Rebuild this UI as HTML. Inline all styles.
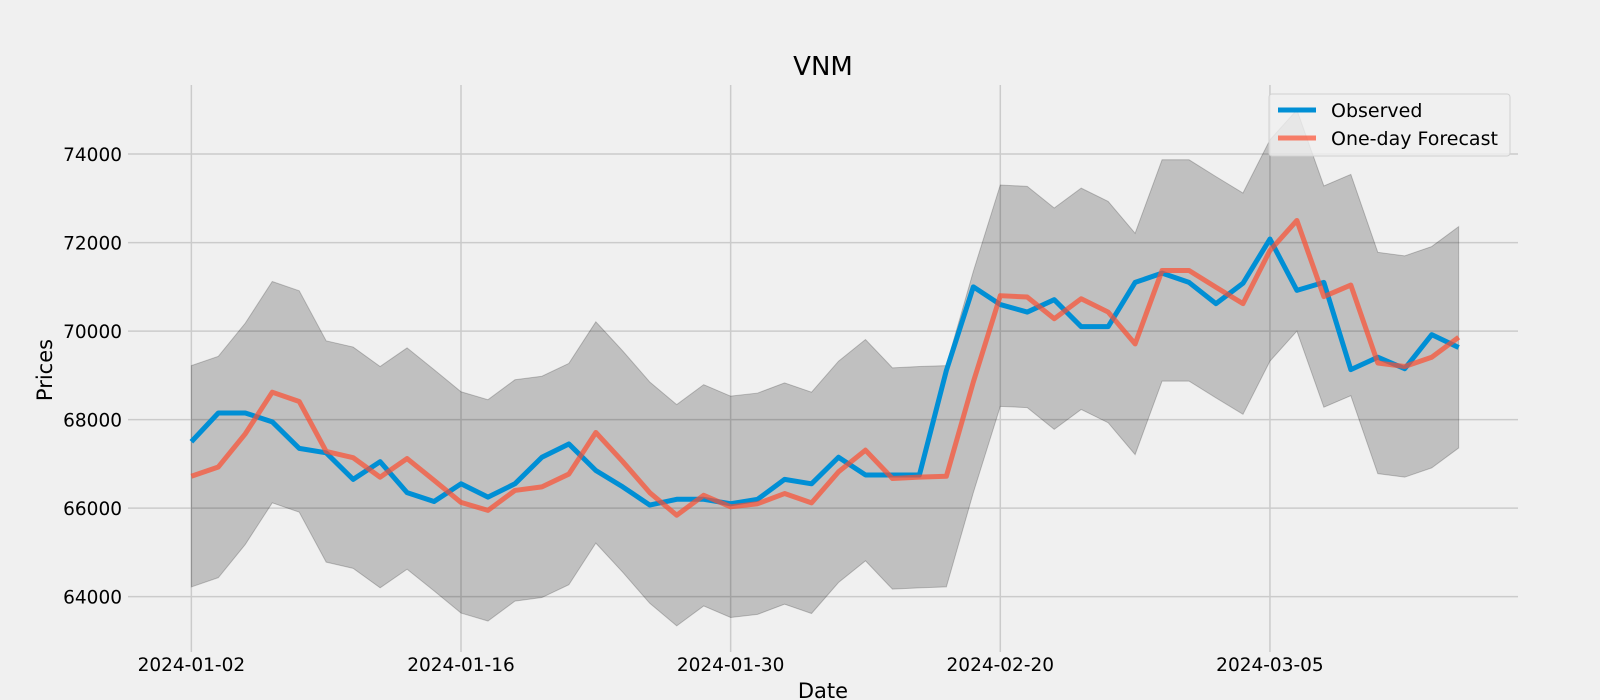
<!DOCTYPE html>
<html><head><meta charset="utf-8"><style>
body{margin:0;background:#f0f0f0;}
svg{display:block;font-family:"DejaVu Sans","Liberation Sans",sans-serif;}
</style></head><body>
<svg id="chart" width="1600" height="700" viewBox="0 0 1600 700" xmlns="http://www.w3.org/2000/svg">
<rect width="1600" height="700" fill="#f0f0f0"/>
<g id="grid"></g><g id="band"></g><g id="lines"></g><g id="ticks"></g>
<text x="823" y="75" font-size="26" text-anchor="middle" fill="#000">VNM</text>
<text x="823" y="698" font-size="21" text-anchor="middle" fill="#000">Date</text>
<text transform="translate(52,370) rotate(-90)" font-size="21" text-anchor="middle" fill="#000">Prices</text>
<g>
<rect x="1269" y="94" width="241" height="62" rx="3" fill="#f0f0f0" fill-opacity="0.8" stroke="#d0d0d0"/>
<line x1="1278" y1="110" x2="1316" y2="110" stroke="#008fd5" stroke-width="5"/>
<text x="1331" y="117" font-size="19">Observed</text>
<line x1="1278" y1="138" x2="1316" y2="138" stroke="#fc4f30" stroke-opacity="0.7" stroke-width="5"/>
<text x="1331" y="145" font-size="19">One-day Forecast</text>
</g>
</svg>
<script>
const dates=["2024-01-02","2024-01-03","2024-01-04","2024-01-05","2024-01-08","2024-01-09","2024-01-10","2024-01-11","2024-01-12","2024-01-15","2024-01-16","2024-01-17","2024-01-18","2024-01-19","2024-01-22","2024-01-23","2024-01-24","2024-01-25","2024-01-26","2024-01-29","2024-01-30","2024-01-31","2024-02-01","2024-02-02","2024-02-05","2024-02-06","2024-02-07","2024-02-15","2024-02-16","2024-02-19","2024-02-20","2024-02-21","2024-02-22","2024-02-23","2024-02-26","2024-02-27","2024-02-28","2024-02-29","2024-03-01","2024-03-04","2024-03-05","2024-03-06","2024-03-07","2024-03-08","2024-03-11","2024-03-12","2024-03-13","2024-03-14"];
const observed=[67500,68150,68150,67950,67350,67250,66650,67050,66350,66150,66550,66250,66550,67150,67450,66850,66480,66070,66200,66200,66100,66200,66650,66550,67150,66750,66750,66750,69110,71000,70600,70430,70710,70100,70100,71100,71310,71100,70620,71080,72080,70920,71100,69130,69410,69150,69920,69630];
const forecast=[66720,66930,67680,68620,68410,67280,67140,66700,67120,66630,66130,65950,66400,66480,66770,67710,67050,66350,65840,66290,66030,66100,66330,66120,66820,67310,66670,66700,66720,68850,70800,70770,70280,70730,70430,69710,71370,71370,70990,70620,71820,72500,70780,71040,69280,69200,69410,69860];
const upper=[69220,69430,70180,71120,70910,69780,69640,69200,69620,69130,68630,68450,68900,68980,69270,70210,69550,68850,68340,68790,68530,68600,68830,68620,69320,69810,69170,69200,69220,71350,73300,73270,72780,73230,72930,72210,73870,73870,73490,73120,74320,75000,73280,73540,71780,71700,71910,72360];
const lower=[64220,64430,65180,66120,65910,64780,64640,64200,64620,64130,63630,63450,63900,63980,64270,65210,64550,63850,63340,63790,63530,63600,63830,63620,64320,64810,64170,64200,64220,66350,68300,68270,67780,68230,67930,67210,68870,68870,68490,68120,69320,70000,68280,68540,66780,66700,66910,67360];
const yTicks=[64000,66000,68000,70000,72000,74000];
const xTickIdx=[0,10,20,30,40];

const L=128,R=1518,T=85,B=652;
const xmin=-2.35,xmax=dates.length-1+2.2,ymin=62750,ymax=75560;
const X=i=>L+(i-xmin)/(xmax-xmin)*(R-L);
const Y=v=>T+(ymax-v)/(ymax-ymin)*(B-T);
const NS="http://www.w3.org/2000/svg";
function mk(tag,attrs,parent){const e=document.createElementNS(NS,tag);for(const k in attrs)e.setAttribute(k,attrs[k]);parent.appendChild(e);return e;}
const grid=document.getElementById('grid'),ticks=document.getElementById('ticks');
yTicks.forEach(v=>{
  const g=mk('line',{x1:L,x2:R,y1:Y(v),y2:Y(v),stroke:'#cbcbcb','stroke-width':1.5},grid);
  
  
  const t=mk('text',{x:122,y:Y(v)+7,'font-size':18.5,'text-anchor':'end',fill:'#000'},ticks);
  t.textContent=v;
  
  
});
xTickIdx.forEach(i=>{
  const g=mk('line',{x1:X(i),x2:X(i),y1:T,y2:B,stroke:'#cbcbcb','stroke-width':1.5},grid);
  
  
  const t=mk('text',{x:X(i),y:671,'font-size':18.5,'text-anchor':'middle',fill:'#000'},ticks);
  t.textContent=dates[i];
  
  
});
let pts=upper.map((v,i)=>X(i)+','+Y(v));
for(let i=lower.length-1;i>=0;i--)pts.push(X(i)+','+Y(lower[i]));
const band=mk('polygon',{points:pts.join(' '),fill:'#000','fill-opacity':0.2,stroke:'#000','stroke-opacity':0.2,'stroke-width':1},document.getElementById('band'));


const lines=document.getElementById('lines');
const lo=mk('polyline',{points:observed.map((v,i)=>X(i)+','+Y(v)).join(' '),fill:'none',stroke:'#008fd5','stroke-width':5,'stroke-linejoin':'round'},lines);


const lf=mk('polyline',{points:forecast.map((v,i)=>X(i)+','+Y(v)).join(' '),fill:'none',stroke:'#fc4f30','stroke-opacity':0.7,'stroke-width':5,'stroke-linejoin':'round'},lines);


</script>
</body></html>
